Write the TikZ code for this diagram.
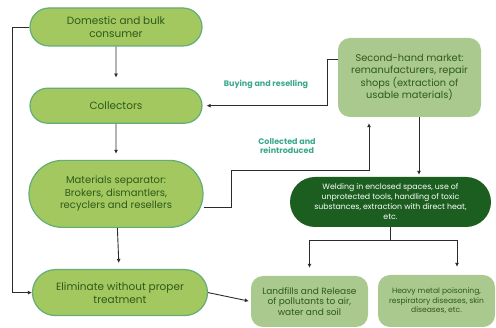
\documentclass[tikz,border=0pt]{standalone}
\usepackage{fontspec}
\setmainfont{Poppins}
\usepackage{xcolor}
\usepackage{tikz}
\usetikzlibrary{arrows.meta,positioning,shapes.misc,calc}

\definecolor{limefill}{HTML}{A3C85F}
\definecolor{limeedge}{HTML}{62AD78}
\definecolor{sagefill}{HTML}{A9C98F}
\definecolor{forest}{HTML}{1B5E20}
\definecolor{leaf}{HTML}{2E5A1C}
\definecolor{tealtxt}{HTML}{3AA88A}
\definecolor{wire}{HTML}{2B2B2B}

\begin{document}
\begin{tikzpicture}[
  >={Latex[length=4pt,width=4pt]},
  box/.style={align=center, inner sep=3pt, text=leaf},
  lime/.style={box, rounded rectangle, draw=limeedge, line width=1.2pt, fill=limefill, minimum width=178pt, font=\fontsize{10.5}{13}\selectfont},
  sage/.style={box, rounded corners=12pt, fill=sagefill, minimum width=117pt, minimum height=51pt},
  forest/.style={box, rounded rectangle, fill=forest, text=white, minimum width=207pt, minimum height=50pt, font=\fontsize{7.8}{10}\selectfont},
  lbl/.style={text=tealtxt, font=\fontsize{8}{9.5}\selectfont\bfseries, align=center},
  wire/.style={draw=wire, line width=0.9pt},
]
\useasboundingbox (0,0) rectangle (496pt,-328pt);

% left column
\node[lime, minimum height=38pt] (dom) at (116pt,-27pt) {Domestic and bulk\\consumer};
\node[lime, below=41pt of dom, minimum height=35pt] (col) {Collectors};
\node[lime, below=36pt of col, minimum height=67pt, minimum width=180pt, font=\fontsize{10}{12.5}\selectfont] (sep)
  {Materials separator:\\Brokers, dismantlers,\\recyclers and resellers};
\node[lime, below=41pt of sep, xshift=4pt, minimum height=46pt, minimum width=181pt] (elim) {Eliminate without proper\\treatment};

% right side
\node[sage, minimum width=143pt, minimum height=79pt, font=\fontsize{9.8}{11.7}\selectfont] (shm) at (409.5pt,-77.5pt)
  {Second-hand market:\\remanufacturers, repair\\shops (extraction of\\usable materials)};
\node[forest] (weld) at (390.5pt,-202pt)
  {Welding in enclosed spaces, use of\\unprotected tools, handling of toxic\\substances, extraction with direct heat,\\etc.};
\node[sage, font=\fontsize{9}{10.8}\selectfont] (land) at (309.5pt,-301.5pt) {Landfills and Release\\of pollutants to air,\\water and soil};
\node[sage, minimum height=52pt, font=\fontsize{7.6}{9.6}\selectfont] (heavy) at (436.5pt,-301pt)
  {Heavy metal poisoning,\\respiratory diseases, skin\\diseases, etc.};

% labels
\node[lbl] (buy) at (266pt,-84pt) {Buying and reselling};
\node[lbl] (back) at (287pt,-146pt) {Collected and\\reintroduced};

% connectors
\draw[wire, ->, shorten >=10pt] (dom) -- (col);
\draw[wire, ->, shorten >=6pt] (col) -- (sep);
\draw[wire, ->, shorten >=6pt] (sep) -- (elim);
\draw[wire, ->] (dom.west) -- ++(-17pt,0) |- (elim.west);
\draw[wire, ->, shorten >=4pt] ([yshift=18pt]shm.west) -- ++(-10pt,0) |- (col.east);
\draw[wire, ->, shorten >=6pt] ([yshift=-13.5pt]sep.east) -- ++(28pt,0) -- ++(0,37pt) -| ([xshift=-40.5pt]shm.south);
\draw[wire, ->, shorten >=2pt] ([xshift=9.5pt]shm.south) -- ([xshift=9.5pt]shm.south |- weld.north);
\draw[wire] (weld.south) -- ++(0,-13pt) coordinate (split);
\draw[wire, ->, shorten >=8pt] (split) -| (land.north);
\draw[wire, ->, shorten >=8pt] (split) -| ([xshift=20.5pt]heavy.north);
\draw[wire, ->, shorten >=2pt] (elim.east) -- (land.west);
\end{tikzpicture}
\end{document}
